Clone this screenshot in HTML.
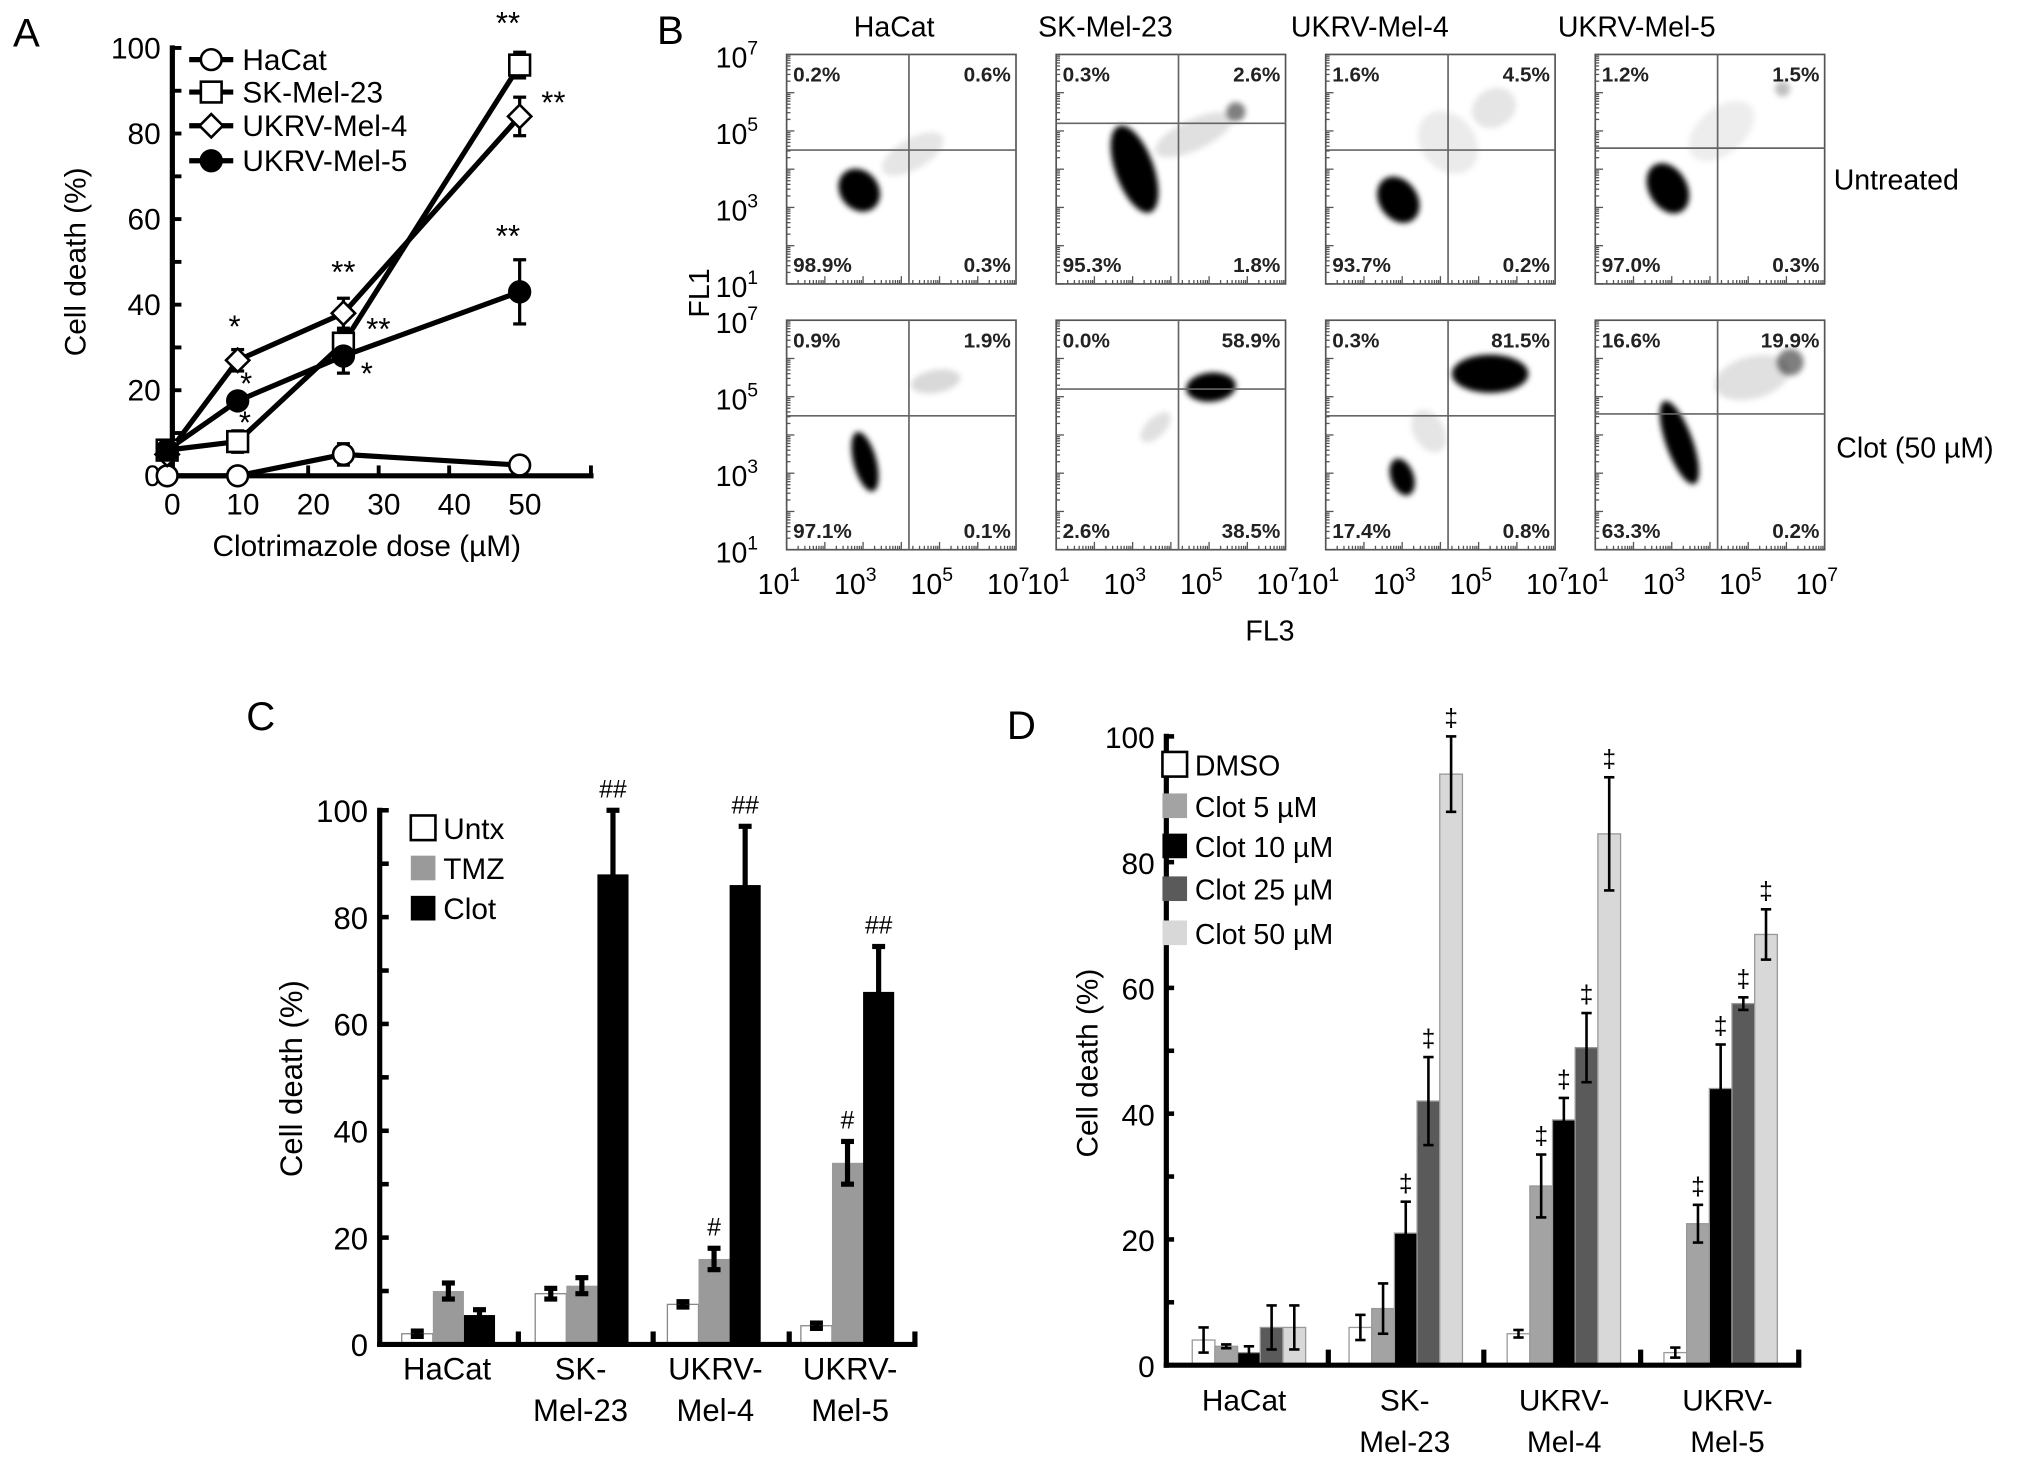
<!DOCTYPE html>
<html><head><meta charset="utf-8"><title>Clotrimazole figure</title>
<style>
html,body{margin:0;padding:0;background:#fff;}
svg{display:block;font-family:"Liberation Sans",Arial,sans-serif;}
</style></head>
<body>
<svg id="fig" width="2032" height="1465" viewBox="0 0 1568 1130" preserveAspectRatio="none" xmlns="http://www.w3.org/2000/svg">
<rect x="0" y="0" width="1568" height="1130" fill="#fff"/>
<g id="panelA"></g>
<g id="panelB"></g>
<g id="panelC"></g>
<g id="panelD"></g>
</svg>
<script>
// ===== Panel A data =====
const aDoses = [0, 10, 25, 50];
const aSeriesNames = ["HaCat", "SK-Mel-23", "UKRV-Mel-4", "UKRV-Mel-5"];
const aHaCat = [0, 0, 5, 2.5];
const aHaCatErr = [0, 0, 2.5, 0.5];
const aSK = [6, 8, 31, 96];
const aSKErr = [0.5, 2.5, 3, 3];
const aMel4 = [5, 27, 38, 84];
const aMel4Err = [0.5, 2.5, 3.5, 4.5];
const aMel5 = [6, 17.5, 28, 43];
const aMel5Err = [0.5, 1.5, 4, 7.5];
const aYTicks = [0, 20, 40, 60, 80, 100];
const aXTicks = [0, 10, 20, 30, 40, 50];
// ===== Panel B data =====
const bCols = ["HaCat", "SK-Mel-23", "UKRV-Mel-4", "UKRV-Mel-5"];
const bRows = ["Untreated", "Clot (50 \u00B5M)"];
const bPctUL = [["0.2%","0.3%","1.6%","1.2%"],["0.9%","0.0%","0.3%","16.6%"]];
const bPctUR = [["0.6%","2.6%","4.5%","1.5%"],["1.9%","58.9%","81.5%","19.9%"]];
const bPctLL = [["98.9%","95.3%","93.7%","97.0%"],["97.1%","2.6%","17.4%","63.3%"]];
const bPctLR = [["0.3%","1.8%","0.2%","0.3%"],["0.1%","38.5%","0.8%","0.2%"]];
const bGateX = [[4.2,4.2,4.2,4.2],[4.2,4.2,4.2,4.2]];
const bGateY = [[4.5,5.2,4.5,4.55],[4.5,5.2,4.5,4.55]];
// clusters: [row, col, log FL3, log FL1, spreadX, spreadY, angleDeg, opacity]
const bClusters = [
 [0,0,2.9,3.45,0.5,0.6,-40,1],[0,0,4.3,4.4,0.9,0.4,-30,0.1],
 [0,1,3.05,4.0,0.5,1.2,-20,1],[0,1,4.6,4.9,1.1,0.4,-25,0.12],[0,1,5.7,5.5,0.25,0.25,0,0.5],
 [0,2,2.9,3.2,0.5,0.65,-35,1],[0,2,4.2,4.7,0.7,0.9,-40,0.08],[0,2,5.4,5.6,0.6,0.5,-30,0.1],
 [0,3,2.9,3.5,0.5,0.7,-30,1],[0,3,4.3,5.0,1.0,0.6,-40,0.07],[0,3,5.9,6.1,0.2,0.2,0,0.25],
 [1,0,3.05,3.3,0.3,0.8,-15,1],[1,0,4.9,5.4,0.65,0.3,-10,0.15],
 [1,1,5.05,5.25,0.65,0.38,-5,1],[1,1,3.6,4.2,0.5,0.25,-45,0.12],
 [1,2,5.3,5.6,1.0,0.5,0,1],[1,2,3.0,2.9,0.3,0.5,-20,1],[1,2,3.7,4.1,0.4,0.6,-30,0.1],
 [1,3,3.2,3.8,0.35,1.15,-20,1],[1,3,5.1,5.5,1.0,0.55,-15,0.12],[1,3,6.1,5.9,0.35,0.35,0,0.5]
];
// ===== Panel C data =====
const cGroups = ["HaCat", "SK-Mel-23", "UKRV-Mel-4", "UKRV-Mel-5"];
const cSeries = ["Untx", "TMZ", "Clot"];
const cUntx = [2, 9.5, 7.5, 3.5];
const cUntxErr = [0.5, 1, 0.5, 0.5];
const cTMZ = [10, 11, 16, 34];
const cTMZErr = [1.5, 1.5, 2, 4];
const cClot = [5.5, 88, 86, 66];
const cClotErr = [1, 12, 11, 8.5];
const cTicks = [0, 20, 40, 60, 80, 100];
// ===== Panel D data =====
const dGroups = ["HaCat", "SK-Mel-23", "UKRV-Mel-4", "UKRV-Mel-5"];
const dSeries = ["DMSO", "Clot 5 \u00B5M", "Clot 10 \u00B5M", "Clot 25 \u00B5M", "Clot 50 \u00B5M"];
const dDMSO = [4, 6, 5, 2];
const dDMSOErr = [2, 2, 0.6, 0.8];
const d5 = [3, 9, 28.5, 22.5];
const d5Err = [0.3, 4, 5, 3];
const d10 = [2, 21, 39, 44];
const d10Err = [1, 5, 3.5, 7];
const d25 = [6, 42, 50.5, 57.5];
const d25Err = [3.5, 7, 5.5, 1];
const d50 = [6, 94, 84.5, 68.5];
const d50Err = [3.5, 6, 9, 4];
const dTicks = [0, 20, 40, 60, 80, 100];

const NS = "http://www.w3.org/2000/svg";
function mk(parent, tag, attrs, text) {
  const e = document.createElementNS(NS, tag);
  for (const k in attrs) e.setAttribute(k, attrs[k]);
  if (text !== undefined) e.textContent = text;
  parent.appendChild(e);
  return e;
}
function line(p, x1, y1, x2, y2, w, c) {
  return mk(p, "line", {x1, y1, x2, y2, stroke: c || "#000", "stroke-width": w || 2});
}
function errBar(p, x, yLo, yHi, cap, w) {
  const g = mk(p, "g", {});
  
  
  line(g, x, yLo, x, yHi, w || 2.5);
  line(g, x - cap, yHi, x + cap, yHi, w || 2.5);
  line(g, x - cap, yLo, x + cap, yLo, w || 2.5);
  return g;
}

// ================= PANEL A =================
(function () {
  const P = document.getElementById("panelA");
  const X0 = 129, XS = 5.44, Y0 = 367, YS = 3.3;
  const xA = v => X0 + XS * v;
  const yA = v => Y0 - YS * v;
  const lab = mk(P, "text", {x: 10, y: 36, "font-size": 31}, "A");
  
  
  const ax = mk(P, "g", {});
  
  
  line(ax, 133, yA(100) - 2, 133, Y0 + 2, 4);
  line(ax, 131, Y0, 458, Y0, 4);
  line(ax, 456, Y0 - 8, 456, Y0, 3);
  for (let v = 0; v <= 100; v += 10) line(ax, 133, yA(v), 140, yA(v), 3);
  aYTicks.forEach(v => {
    const t = mk(ax, "text", {x: 124, y: yA(v) + 8, "font-size": 23, "text-anchor": "end"}, String(v));
    
    
  });
  aXTicks.forEach(v => {
    if (v > 0) line(ax, xA(v), Y0, xA(v), Y0 - 8, 3);
    const t = mk(ax, "text", {x: xA(v) + 4, y: Y0 + 30, "font-size": 23, "text-anchor": "middle"}, String(v));
    
    
  });
  const xt = mk(P, "text", {x: 283, y: 429, "font-size": 23, "text-anchor": "middle"}, "Clotrimazole dose (\u00B5M)");
  
  
  const yt = mk(P, "text", {x: 0, y: 0, "font-size": 23, "text-anchor": "middle", transform: "translate(66,202) rotate(-90)"}, "Cell death (%)");
  
  

  const series = [[aHaCat, aHaCatErr, "circle", "#fff"], [aSK, aSKErr, "square", "#fff"], [aMel4, aMel4Err, "diamond", "#fff"], [aMel5, aMel5Err, "circle", "#000"]];
  function marker(g, shape, fill, x, y) {
    if (shape === "circle") return mk(g, "circle", {cx: x, cy: y, r: 8, fill, stroke: "#000", "stroke-width": 2});
    if (shape === "square") return mk(g, "rect", {x: x - 8, y: y - 8, width: 16, height: 16, fill, stroke: "#000", "stroke-width": 2});
    return mk(g, "polygon", {points: `${x},${y - 9} ${x + 9},${y} ${x},${y + 9} ${x - 9},${y}`, fill, stroke: "#000", "stroke-width": 2});
  }
  series.forEach((s, i) => {
    const g = mk(P, "g", {});
    
    
    const pts = aDoses.map((d, k) => xA(d) + "," + yA(s[0][k])).join(" ");
    mk(g, "polyline", {points: pts, fill: "none", stroke: "#000", "stroke-width": 4});
    aDoses.forEach((d, k) => { if (s[1][k] > 0.6) errBar(g, xA(d), yA(s[0][k] - s[1][k]), yA(s[0][k] + s[1][k]), 5, 2.5); });
  });
  series.forEach((s, i) => {
    const g = mk(P, "g", {});
    
    
    aDoses.forEach((d, k) => {
      const m = marker(g, s[2], s[3], xA(d), yA(s[0][k]));
      
      
    });
  });
  const stars = [["**", 392, 26], ["**", 427, 87], ["**", 392, 190], ["**", 265, 218], ["**", 292, 262], ["*", 181, 260], ["*", 190, 304], ["*", 189, 334], ["*", 283, 296]];
  stars.forEach(s => {
    const t = mk(P, "text", {x: s[1], y: s[2], "font-size": 24, "text-anchor": "middle"}, s[0]);
    
    
  });
  const lg = mk(P, "g", {});
  
  
  const ly = [46, 71, 97, 124];
  series.forEach((s, i) => {
    const e = mk(lg, "g", {});
    
    
    line(e, 146, ly[i], 180, ly[i], 4);
    marker(e, s[2], s[3], 163, ly[i]);
    mk(e, "text", {x: 187, y: ly[i] + 8, "font-size": 23}, aSeriesNames[i]);
  });
})();

// ================= PANEL B =================
(function () {
  const P = document.getElementById("panelB");
  const colX = [607, 815, 1023, 1231], W = 177;
  const rowY = [42, 247], H = 177;
  const lb = mk(P, "text", {x: 507, y: 34, "font-size": 31}, "B");
  
  
  mk(P, "filter", {id: "blur"}).appendChild(document.createElementNS(NS, "feGaussianBlur")).setAttribute("stdDeviation", "2.2");
  const titleX = [690, 853, 1057, 1263];
  bCols.forEach((c, i) => {
    const t = mk(P, "text", {x: titleX[i], y: 28, "font-size": 22, "text-anchor": "middle"}, c);
    
    
  });
  for (let r = 0; r < 2; r++) for (let c = 0; c < 4; c++) {
    const x0 = colX[c], y0 = rowY[r];
    const lx = v => x0 + (v - 1) / 6 * W;
    const ly = v => y0 + H - (v - 1) / 6 * H;
    const g = mk(P, "g", {});
    
    
    mk(g, "rect", {x: x0, y: y0, width: W, height: H, fill: "#fff", stroke: "#555", "stroke-width": 1.3});
    const cl = mk(g, "g", {filter: "url(#blur)"});
    bClusters.filter(k => k[0] === r && k[1] === c).forEach(k => {
      const e = mk(cl, "ellipse", {cx: lx(k[2]), cy: ly(k[3]), rx: k[4] / 6 * W, ry: k[5] / 6 * H, fill: "#000", "fill-opacity": k[7], transform: `rotate(${k[6]} ${lx(k[2])} ${ly(k[3])})`});
      
      
    });
    line(g, lx(bGateX[r][c]), y0, lx(bGateX[r][c]), y0 + H, 1.3, "#666");
    line(g, x0, ly(bGateY[r][c]), x0 + W, ly(bGateY[r][c]), 1.3, "#666");
    for (let d = 1; d < 7; d++) for (let m = 1; m < 10; m++) {
      const v = d + Math.log10(m);
      line(g, lx(v), y0 + H, lx(v), y0 + H - (m === 1 ? 6 : 3), 1, "#555");
      line(g, x0, ly(v), x0 + (m === 1 ? 6 : 3), ly(v), 1, "#555");
    }
    const pct = [[bPctUL[r][c], x0 + 5, y0 + 21, "start"], [bPctUR[r][c], x0 + W - 4, y0 + 21, "end"], [bPctLL[r][c], x0 + 5, y0 + H - 9, "start"], [bPctLR[r][c], x0 + W - 4, y0 + H - 9, "end"]];
    pct.forEach(p => {
      const t = mk(g, "text", {x: p[1], y: p[2], "font-size": 16, "font-weight": "bold", "text-anchor": p[3], fill: "#222"}, p[0]);
      
      
    });
    if (c === 0) [1, 3, 5, 7].forEach(v => {
      const t = mk(P, "text", {x: x0 - 22, y: ly(v) + 10, "font-size": 22, "text-anchor": "end"});
      
      
      t.textContent = "10";
      mk(t, "tspan", {dy: -10, "font-size": 15}, String(v));
    });
    if (r === 1) [1, 3, 5, 7].forEach(v => {
      const t = mk(P, "text", {x: lx(v) - 6, y: y0 + H + 34, "font-size": 22, "text-anchor": "middle"});
      
      
      t.textContent = "10";
      mk(t, "tspan", {dy: -10, "font-size": 15}, String(v));
    });
  }
  const rl = [[1415, 146, bRows[0]], [1417, 353, bRows[1]]];
  rl.forEach(r => {
    const t = mk(P, "text", {x: r[0], y: r[1], "font-size": 22}, r[2]);
    
    
  });
  const fl3 = mk(P, "text", {x: 980, y: 494, "font-size": 22, "text-anchor": "middle"}, "FL3");
  
  
  const fl1 = mk(P, "text", {x: 0, y: 0, "font-size": 22, "text-anchor": "middle", transform: "translate(547,226) rotate(-90)"}, "FL1");
  
  
})();

// ================= PANEL C =================
(function () {
  const P = document.getElementById("panelC");
  const AX = 293, Y0 = 1037, YS = 4.12;
  const yC = v => Y0 - YS * v;
  const groupStart = [310, 413, 515, 618], BW = 24;
  const lb = mk(P, "text", {x: 190, y: 563, "font-size": 31}, "C");
  
  
  const fills = ["#fff", "#9a9a9a", "#000"];
  const vals = [cUntx, cTMZ, cClot], errs = [cUntxErr, cTMZErr, cClotErr];
  cGroups.forEach((gname, gi) => {
    const g = mk(P, "g", {});
    
    
    vals.forEach((arr, si) => {
      const x = groupStart[gi] + si * BW;
      const b = mk(g, "rect", {x, y: yC(arr[gi]), width: BW, height: YS * arr[gi], fill: fills[si], stroke: si === 0 ? "#888" : "none", "stroke-width": 1});
      
      
      errBar(g, x + BW / 2, yC(arr[gi] - errs[si][gi]), yC(arr[gi] + errs[si][gi]), 5, 4);
    });
  });
  const ax = mk(P, "g", {});
  
  
  line(ax, AX, yC(100) - 2, AX, Y0 + 2, 4);
  line(ax, AX - 2, Y0, 708, Y0, 4);
  [400, 504, 609, 706].forEach(x => line(ax, x, Y0, x, Y0 - 10, 4));
  for (let v = 0; v <= 100; v += 10) line(ax, AX, yC(v), AX + 7, yC(v), 3.5);
  cTicks.forEach(v => {
    const t = mk(ax, "text", {x: 284, y: yC(v) + 9, "font-size": 24, "text-anchor": "end"}, String(v));
    
    
  });
  const yt = mk(P, "text", {x: 0, y: 0, "font-size": 24, "text-anchor": "middle", transform: "translate(233,832) rotate(-90)"}, "Cell death (%)");
  
  
  const xl = [["HaCat", ""], ["SK-", "Mel-23"], ["UKRV-", "Mel-4"], ["UKRV-", "Mel-5"]];
  const xc = [345, 448, 552, 656];
  xl.forEach((l, i) => {
    const t = mk(P, "text", {x: xc[i], y: 1064, "font-size": 24, "text-anchor": "middle"}, l[0]);
    
    
    if (l[1]) mk(t, "tspan", {x: xc[i], dy: 32}, l[1]);
  });
  const hashes = ["", "##", "##", "##"];
  cGroups.forEach((_, i) => {
    if (!hashes[i]) return;
    const t = mk(P, "text", {x: groupStart[i] + 2.5 * BW, y: yC(cClot[i] + cClotErr[i]) - 10, "font-size": 19, "text-anchor": "middle"}, hashes[i]);
    
    
  });
  [2, 3].forEach(i => {
    const t = mk(P, "text", {x: groupStart[i] + 1.5 * BW, y: yC(cTMZ[i] + cTMZErr[i]) - 10, "font-size": 19, "text-anchor": "middle"}, "#");
    
    
  });
  const lg = mk(P, "g", {});
  
  
  cSeries.forEach((s, i) => {
    const y = 629 + i * 31;
    const e = mk(lg, "g", {});
    
    
    mk(e, "rect", {x: 317, y, width: 19, height: 19, fill: fills[i], stroke: i === 0 ? "#000" : "none", "stroke-width": 2});
    mk(e, "text", {x: 342, y: y + 18, "font-size": 23}, s);
  });
})();

// ================= PANEL D =================
(function () {
  const P = document.getElementById("panelD");
  const AX = 900, Y0 = 1053, YS = 4.85;
  const yD = v => Y0 - YS * v;
  const groupStart = [920, 1041, 1163, 1284], BW = 17.5;
  const lb = mk(P, "text", {x: 777, y: 570, "font-size": 31}, "D");
  
  
  const fills = ["#fff", "#a3a3a3", "#000", "#5a5a5a", "#d8d8d8"];
  const vals = [dDMSO, d5, d10, d25, d50], errs = [dDMSOErr, d5Err, d10Err, d25Err, d50Err];
  dGroups.forEach((gname, gi) => {
    const g = mk(P, "g", {});
    
    
    vals.forEach((arr, si) => {
      const x = groupStart[gi] + si * BW;
      const b = mk(g, "rect", {x, y: yD(arr[gi]), width: BW, height: YS * arr[gi], fill: fills[si], stroke: "#999", "stroke-width": 1});
      
      
      errBar(g, x + BW / 2, yD(arr[gi] - errs[si][gi]), yD(arr[gi] + errs[si][gi]), 4, 2);
      if (gi > 0 && si > 0 && !(gi === 1 && si === 1)) {
        const t = mk(g, "text", {x: x + BW / 2, y: yD(arr[gi] + errs[si][gi]) - 8, "font-size": 19, "text-anchor": "middle"}, "\u2021");
        
        
      }
    });
  });
  const ax = mk(P, "g", {});
  
  
  line(ax, AX, yD(100) - 2, AX, Y0 + 2, 4);
  line(ax, AX - 2, Y0, 1390, Y0, 4);
  [1025, 1145, 1266, 1388].forEach(x => line(ax, x, Y0, x, Y0 - 12, 4));
  for (let v = 0; v <= 100; v += 10) line(ax, AX, yD(v), AX + 6, yD(v), 3.5);
  dTicks.forEach(v => {
    const t = mk(ax, "text", {x: 891, y: yD(v) + 9, "font-size": 23, "text-anchor": "end"}, String(v));
    
    
  });
  const yt = mk(P, "text", {x: 0, y: 0, "font-size": 23, "text-anchor": "middle", transform: "translate(847,820) rotate(-90)"}, "Cell death (%)");
  
  
  const xl = [["HaCat", ""], ["SK-", "Mel-23"], ["UKRV-", "Mel-4"], ["UKRV-", "Mel-5"]];
  const xc = [960, 1084, 1207, 1333];
  xl.forEach((l, i) => {
    const t = mk(P, "text", {x: xc[i], y: 1088, "font-size": 23, "text-anchor": "middle"}, l[0]);
    
    
    if (l[1]) mk(t, "tspan", {x: xc[i], dy: 32}, l[1]);
  });
  const lg = mk(P, "g", {});
  
  
  const ly = [580, 612, 643, 676, 710];
  dSeries.forEach((s, i) => {
    const e = mk(lg, "g", {});
    
    
    mk(e, "rect", {x: 897, y: ly[i], width: 19, height: 19, fill: fills[i], stroke: i === 0 ? "#000" : "none", "stroke-width": 2});
    mk(e, "text", {x: 922, y: ly[i] + 18, "font-size": 22}, s);
  });
})();
</script>
</body></html>
